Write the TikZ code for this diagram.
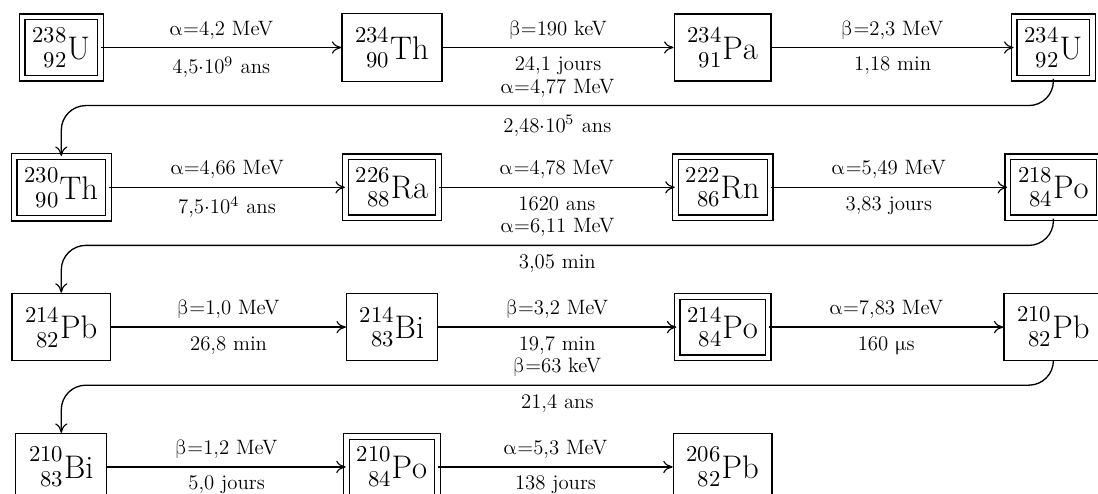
\documentclass[tikz,border=0pt]{standalone}
\usepackage{mathtools}
\usepackage{unicode-math}
\usetikzlibrary{arrows.meta}

\newcommand{\iso}[3]{$\prescript{#1}{#2}{\mathrm{#3}}$}
\newcommand{\al}[1]{$\upalpha$=#1 MeV}
\newcommand{\be}[1]{$\upbeta$=#1 MeV}

\begin{document}
\begin{tikzpicture}[
  >={To[length=5pt,width=6.5pt,line width=0.6pt]},
  line width=0.7pt,
  nuc/.style={draw,font=\LARGE,inner sep=7pt},
  anuc/.style={nuc,inner sep=5.5pt,double,double distance=2.3pt},
  dec/.style={->},
  ret/.style={->,rounded corners=13pt},
  lab/.style={font=\fontsize{11}{13.6}\selectfont},
  up/.style={lab,text depth=0pt,above=2.9pt},
  dn/.style={lab,below=1.2pt}]

  \useasboundingbox (-1.14,0.883) rectangle (19.28,-8.30);

  % ================= row 1 =================
  \node[anuc] (U238) at (0,0) {\iso{238}{92}{U}};
  \node[nuc] (Th234) at (6.15,0) {\iso{234}{90}{Th}};
  \node[nuc] (Pa234) at (12.3,0) {\iso{234}{91}{Pa}};
  \node[anuc] (U234) at (18.45,0) {\iso{234}{92}{U}};

  \draw[dec] (U238) -- node[up] {\al{4,2}}
    node[dn] {4,5$\cdot$10$^9$ ans} (Th234);
  \draw[dec] (Th234) -- node[up] {$\upbeta$=190 keV}
    node[dn] {24,1 jours} (Pa234);
  \draw[dec] (Pa234) -- node[up] {\be{2,3}}
    node[dn] {1,18 min} (U234);

  % ================= row 2 =================
  \node[anuc] (Th230) at (0,-2.6) {\iso{230}{90}{Th}};
  \node[anuc] (Ra226) at (6.15,-2.6) {\iso{226}{88}{Ra}};
  \node[anuc] (Rn222) at (12.3,-2.6) {\iso{222}{86}{Rn}};
  \node[anuc] (Po218) at (18.45,-2.6) {\iso{218}{84}{Po}};

  \draw[dec] (Th230) -- node[up] {\al{4,66}}
    node[dn] {7,5$\cdot$10$^4$ ans} (Ra226);
  \draw[dec] (Ra226) -- node[up] {\al{4,78}}
    node[dn] {1620 ans} (Rn222);
  \draw[dec] (Rn222) -- node[up] {\al{5,49}}
    node[dn] {3,83 jours} (Po218);

  % ================= row 3 =================
  \node[nuc] (Pb214) at (0,-5.2) {\iso{214}{82}{Pb}};
  \node[nuc] (Bi214) at (6.15,-5.2) {\iso{214}{83}{Bi}};
  \node[anuc] (Po214) at (12.3,-5.2) {\iso{214}{84}{Po}};
  \node[nuc] (Pb210) at (18.45,-5.2) {\iso{210}{82}{Pb}};

  \draw[dec] (Pb214) -- node[up] {\be{1,0}}
    node[dn] {26,8 min} (Bi214);
  \draw[dec] (Bi214) -- node[up] {\be{3,2}}
    node[dn] {19,7 min} (Po214);
  \draw[dec] (Po214) -- node[up] {\al{7,83}}
    node[dn] {160 $\upmu$s} (Pb210);

  % ================= row 4 =================
  \node[nuc] (Bi210) at (0,-7.8) {\iso{210}{83}{Bi}};
  \node[anuc] (Po210) at (6.15,-7.8) {\iso{210}{84}{Po}};
  \node[nuc] (Pb206) at (12.3,-7.8) {\iso{206}{82}{Pb}};

  \draw[dec] (Bi210) -- node[up] {\be{1,2}}
    node[dn] {5,0 jours} (Po210);
  \draw[dec] (Po210) -- node[up] {\al{5,3}}
    node[dn] {138 jours} (Pb206);

  % return lines between rows
  \coordinate (r1) at (0,-1.08);
  \coordinate (r2) at (0,-3.68);
  \coordinate (r3) at (0,-6.28);

  \draw[ret] (U234.south) -- (U234.south |- r1)
    -- node[up] {\al{4,77}} node[dn] {2,48$\cdot$10$^5$ ans}
    (Th230.north |- r1) -- (Th230.north);
  \draw[ret] (Po218.south) -- (Po218.south |- r2)
    -- node[up] {\al{6,11}} node[dn] {3,05 min}
    (Pb214.north |- r2) -- (Pb214.north);
  \draw[ret] (Pb210.south) -- (Pb210.south |- r3)
    -- node[up] {$\upbeta$=63 keV} node[dn] {21,4 ans}
    (Bi210.north |- r3) -- (Bi210.north);
\end{tikzpicture}
\end{document}
